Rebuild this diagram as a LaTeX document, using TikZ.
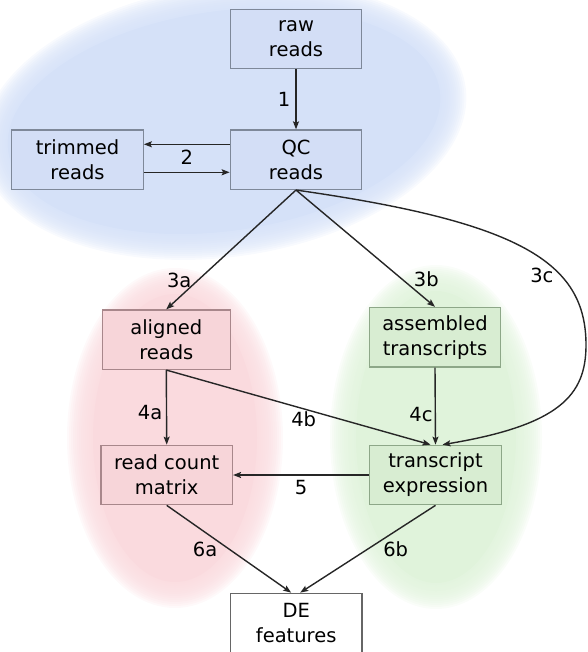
\documentclass[tikz,border=0pt]{standalone}
\usepackage{fontspec}
\setmainfont{DejaVu Sans}
\usetikzlibrary{arrows.meta}

\definecolor{qcfill}{HTML}{D3DEF6}
\definecolor{qcblob}{HTML}{D5E1F8}
\definecolor{qcline}{HTML}{7E8899}
\definecolor{alfill}{HTML}{F7D5D9}
\definecolor{alblob}{HTML}{FADADE}
\definecolor{alline}{HTML}{A8878B}
\definecolor{asfill}{HTML}{D8EDD2}
\definecolor{asblob}{HTML}{E0F3DB}
\definecolor{asline}{HTML}{8DA788}

\begin{document}
\begin{tikzpicture}[x=1pt,y=-1pt,inner sep=2pt,
    font=\fontsize{19.5}{25}\selectfont,
    stage/.style={draw, line width=1.2pt, align=center,
      minimum width=131.5pt, minimum height=59.5pt},
    qcstage/.style={stage, draw=qcline, fill=qcfill},
    alstage/.style={stage, draw=alline, fill=alfill},
    asstage/.style={stage, draw=asline, fill=asfill},
    flow/.style={draw=black!85, line width=1.4pt,
      -{Stealth[length=8pt,width=6pt,inset=1.5pt]}}]

    \useasboundingbox (0,0) rectangle (587,652);

    \foreach \col/\cx/\cy/\rx/\ry/\ang in {qcblob/224/121/244/136/8,
        alblob/175/438/108/170/0, asblob/436/437/106/172/0} {
      \fill[\col, rotate around={\ang:(\cx,\cy)}]
        (\cx,\cy) circle [x radius={\rx-26}, y radius={\ry-26}];
      \foreach \dd in {2,4,...,26}
        \fill[\col, opacity=0.16, rotate around={\ang:(\cx,\cy)}]
          (\cx,\cy) circle [x radius={\rx-26+\dd}, y radius={\ry-26+\dd}];
    }

    \node[qcstage] (raw) at (296,39) {raw\\reads};
    \node[qcstage] (qc) at (296,159.7) {QC\\reads};
    \node[qcstage] (trim) at (77.5,159.7) {trimmed\\reads};
    \node[alstage, minimum width=128pt] (aligned) at (166.3,339.7) {aligned\\reads};
    \node[asstage] (assembled) at (435,337.2) {assembled\\transcripts};
    \node[alstage] (count) at (166.7,475) {read count\\matrix};
    \node[asstage] (expr) at (435.5,475) {transcript\\expression};
    \node[stage, draw=black!60, fill=white] (de) at (296.2,623) {DE\\features};

    \draw[flow] (raw) -- node[left=3pt] {1} (qc);
    \draw[flow] ([yshift=15.4pt]qc.west) -- node[below=3.5pt] {2} ([yshift=15.4pt]trim.east);
    \draw[flow] ([yshift=-12.6pt]trim.east) -- ([yshift=-12.6pt]qc.west);
    \draw[flow] (qc.south) -- node[pos=0.755, left=4pt] {3a} (aligned.north);
    \draw[flow] (qc.south) -- node[pos=0.766, right=8.7pt] {3b} (assembled.north);
    \draw[flow] (qc.south) .. controls (520,222) and (586,262) .. node[pos=0.67, left=5pt] {3c} (586,345)
      .. controls (586,395) and (560,425) .. ([xshift=7pt]expr.north);
    \draw[flow] (aligned.south) -- node[pos=0.57, left=1.5pt] {4a} (count.north);
    \draw[flow] (aligned.south) -- node[pos=0.52, below] {4b} ([xshift=-5pt]expr.north);
    \draw[flow] (assembled.south) -- node[pos=0.61, left] {4c} (expr.north);
    \draw[flow] (expr) -- node[below=3pt] {5} (count);
    \draw[flow] (count.south) -- node[left=9pt] {6a} ([xshift=-5pt]de.north);
    \draw[flow] (expr.south) -- node[right=12.7pt] {6b} ([xshift=4pt]de.north);
\end{tikzpicture}
\end{document}
